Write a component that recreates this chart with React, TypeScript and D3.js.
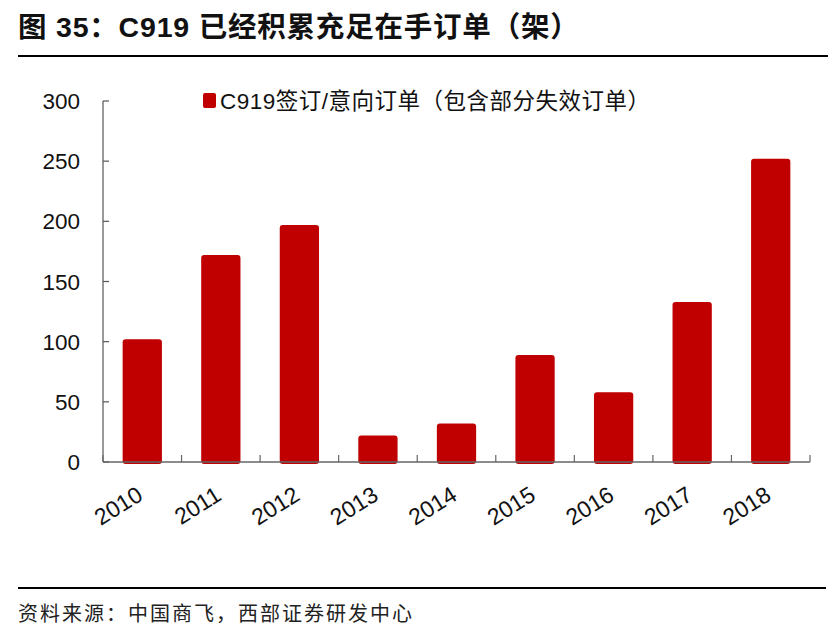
import React from 'react';
import * as d3 from 'd3';

const years = ['2010', '2011', '2012', '2013', '2014', '2015', '2016', '2017', '2018'];
const orders = [102, 172, 197, 22, 32, 89, 58, 133, 252];
const yTicks = [0, 50, 100, 150, 200, 250, 300];

const title = '图 35：C919 已经积累充足在手订单（架）';
const legendLabel = 'C919签订/意向订单（包含部分失效订单）';
const source = '资料来源：中国商飞，西部证券研发中心';

const W = 835;
const H = 641;
const font = '"Liberation Sans", Arial, "Noto Sans CJK SC", sans-serif';
const red = '#c00000';

const App: React.FC = () => {
  const margin = { left: 103, right: 25, top: 101, bottom: 179 };
  const x = d3
    .scaleBand<string>()
    .domain(years)
    .range([margin.left, 810])
    .paddingInner(0.5)
    .paddingOuter(0.25);
  const y = d3.scaleLinear().domain([0, 300]).range([462, margin.top]);
  const step = x.step();
  const x0 = margin.left;

  return (
    <svg
      width={W}
      height={H}
      style={{ position: 'absolute', left: 0, top: 0, display: 'block', background: '#fff' }}
      fontFamily={font}
    >
      {/* title */}
      <text x={18} y={37} fontSize={28.5} fontWeight="bold" fill="#111" letterSpacing={0.8}>
        {title}
      </text>
      <line x1={18} x2={828} y1={56} y2={56} stroke="#000" strokeWidth={2} />

      {/* bars */}
      {orders.map((v, i) => (
        <rect
          key={years[i]}
          x={x(years[i])}
          y={y(v)}
          width={x.bandwidth()}
          height={y(0) - y(v) + 2}
          rx={3}
          fill={red}
        />
      ))}

      {/* y axis */}
      <line x1={x0} x2={x0} y1={y(300)} y2={y(0)} stroke="#555" strokeWidth={1.2} />
      {yTicks.map((t) => (
        <g key={t}>
          <line x1={x0} x2={x0 + 6} y1={y(t)} y2={y(t)} stroke="#555" strokeWidth={1.2} />
          <text x={80} y={y(t)} dy="0.36em" textAnchor="end" fontSize={22.5} fill="#111">
            {t}
          </text>
        </g>
      ))}

      {/* x axis */}
      <line x1={x0} x2={810} y1={y(0)} y2={y(0)} stroke="#666" strokeWidth={1.5} />
      {d3.range(years.length + 1).map((i) => (
        <line
          key={i}
          x1={x0 + i * step}
          x2={x0 + i * step}
          y1={y(0)}
          y2={y(0) - 7}
          stroke="#666"
          strokeWidth={1.2}
        />
      ))}
      {years.map((yr) => {
        const cx = (x(yr) ?? 0) + x.bandwidth() / 2 + 2;
        const cy = y(0) + 37;
        return (
          <text
            key={yr}
            x={cx}
            y={cy}
            textAnchor="end"
            fontSize={23}
            fill="#111"
            transform={`rotate(-32, ${cx}, ${cy})`}
          >
            {yr}
          </text>
        );
      })}

      {/* legend */}
      <rect x={203} y={93} width={13} height={15} rx={2} fill={red} />
      <text x={220} y={101} dy="0.36em" fontSize={22.5} fill="#111" letterSpacing={0.5}>
        {legendLabel}
      </text>

      {/* footer */}
      <line x1={18} x2={826} y1={588} y2={588} stroke="#000" strokeWidth={2} />
      <text x={18} y={621} fontSize={20} fill="#222" letterSpacing={2}>
        {source}
      </text>
    </svg>
  );
};

export default App;
